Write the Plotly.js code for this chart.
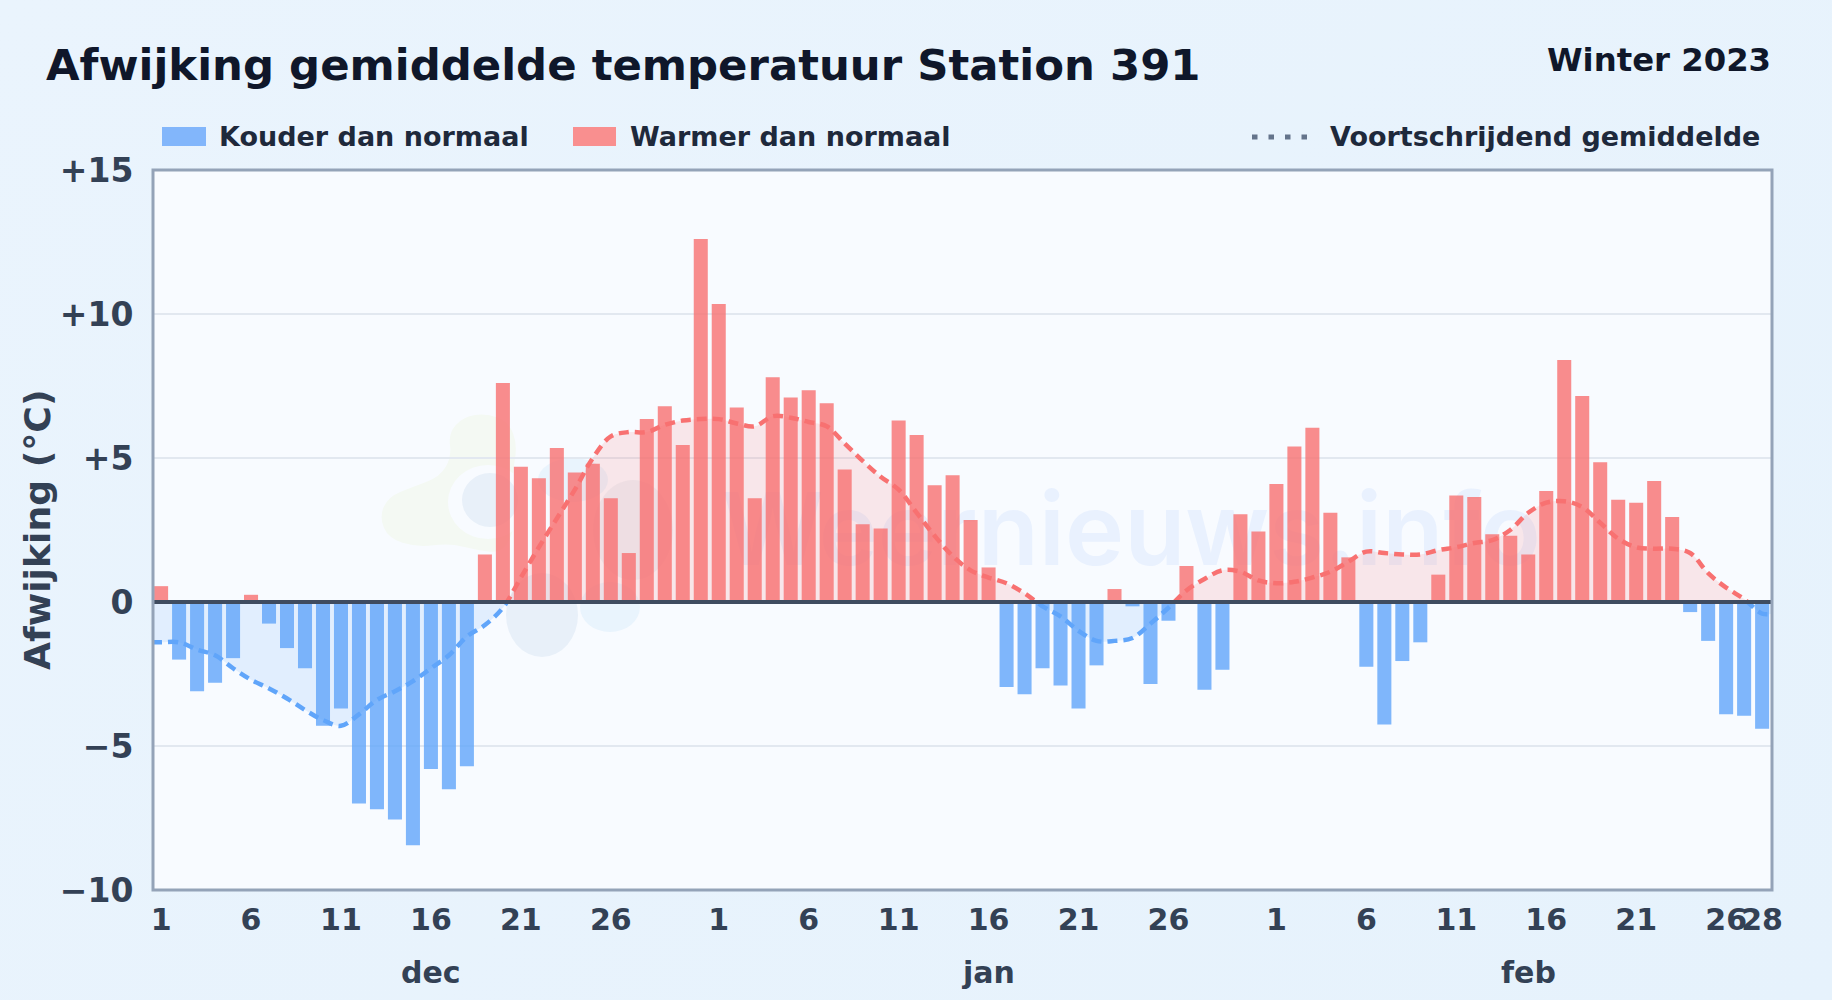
<!DOCTYPE html>
<html><head><meta charset="utf-8">
<script src="https://cdn.plot.ly/plotly-3.0.1.min.js"></script>
<style>
html,body{margin:0;padding:0;width:1832px;height:1000px;overflow:hidden;background:linear-gradient(135deg,#eaf4fd 0%,#e6f2fc 100%);}
#chart{width:1832px;height:1000px;}
</style></head><body><div id="chart"></div>
<script>
const decValues=[0.55,-2.0,-3.1,-2.8,-1.95,0.25,-0.75,-1.6,-2.3,-4.3,-3.7,-7.0,-7.2,-7.55,-8.45,-5.8,-6.5,-5.7,1.65,7.6,4.7,4.3,5.35,4.5,4.8,3.6,1.7,6.35,6.8,5.45,12.6];
const janValues=[10.35,6.75,3.6,7.8,7.1,7.35,6.9,4.6,2.7,2.55,6.3,5.8,4.05,4.4,2.85,1.2,-2.95,-3.2,-2.3,-2.9,-3.7,-2.2,0.45,-0.15,-2.85,-0.65,1.25,-3.05,-2.35,3.05,2.45];
const febValues=[4.1,5.4,6.05,3.1,1.55,-2.25,-4.25,-2.05,-1.4,0.95,3.7,3.65,2.35,2.3,1.65,3.85,8.4,7.15,4.85,3.55,3.45,4.2,2.95,-0.35,-1.35,-3.9,-3.95,-4.4];
const decAvg=[-1.4,-1.4,-1.65,-1.85,-2.3,-2.7,-3.0,-3.35,-3.75,-4.1,-4.3,-3.9,-3.4,-3.1,-2.75,-2.3,-1.85,-1.2,-0.8,-0.2,0.85,1.9,2.9,3.9,5.0,5.75,5.9,5.9,6.15,6.3,6.35];
const janAvg=[6.35,6.2,6.1,6.45,6.4,6.25,6.1,5.5,4.9,4.35,3.9,3.1,2.3,1.6,1.1,0.85,0.65,0.3,-0.15,-0.5,-1.0,-1.35,-1.35,-1.25,-0.75,-0.2,0.4,0.8,1.1,1.05,0.75];
const febAvg=[0.65,0.7,0.85,1.05,1.4,1.75,1.7,1.65,1.65,1.8,1.9,2.05,2.15,2.5,3.1,3.45,3.5,3.3,2.75,2.2,1.9,1.85,1.85,1.7,1.0,0.5,0.1,-0.4];
const monthNames=['dec','jan','feb'];
const monthMidDays=[16,16,15];
const dayTicks=[1,6,11,16,21,26];
const febDayTicks=[1,6,11,16,21,26,28];
const yTicks=[-10,-5,0,5,10,15];
const yTickLabels=['\u221210','\u22125','0','+5','+10','+15'];

const values=decValues.concat(janValues,febValues);
const avg=decAvg.concat(janAvg,febAvg);
const xs=values.map((_,i)=>i+1);
const lineX=[0.5].concat(xs,[90.6]);
const lineY=[avg[0]].concat(avg,[avg[avg.length-1]]);
const offs=[0,decValues.length,decValues.length+janValues.length];
const tickvals=[],ticktext=[];
[dayTicks,dayTicks,febDayTicks].forEach((t,m)=>t.forEach(d=>{tickvals.push(offs[m]+d);ticktext.push(String(d));}));

const L=153,R=1772,T=170,B=890;
const xp=p=>(p-L)/(R-L), yp=p=>1-(p-T)/(B-T);
const FONT='"DejaVu Sans", sans-serif';
const BLUE='#60a5fa', RED='#f87171';

function blob(pts){
  const n=pts.length; const P=q=>xp(q[0])+','+yp(q[1]);
  const mid=(a,b)=>[(a[0]+b[0])/2,(a[1]+b[1])/2];
  let d='M'+P(mid(pts[n-1],pts[0]));
  for(let i=0;i<n;i++){d+=' Q'+P(pts[i])+' '+P(mid(pts[i],pts[(i+1)%n]));}
  return d+' Z';
}
const z=(x,y)=>[x/3+360,y/3+390];
const ell=(cx,cy,rx,ry,fill)=>({type:'circle',xref:'paper',yref:'paper',x0:xp(cx-rx),x1:xp(cx+rx),y0:yp(cy+ry),y1:yp(cy-ry),fillcolor:fill,line:{width:0},layer:'below'});
const greenPts=[[265,130],[310,80],[380,70],[445,95],[473,165],[455,260],[470,400],[430,490],[350,480],[270,460],[170,472],[85,445],[58,380],[85,320],[160,290],[240,260],[275,200]].map(p=>z(p[0],p[1]));

const shapes=[
  {type:'rect',xref:'paper',yref:'paper',x0:0,x1:1,y0:0,y1:1,fillcolor:'#f8fbff',line:{width:0},layer:'below'},
  {type:'path',xref:'paper',yref:'paper',path:blob(greenPts),fillcolor:'#f4f9f3',line:{width:0},layer:'below'},
  ell(488,502,40,37,'#f8fbff'),
  ell(490,500,28,27,'#e8f0f9'),
  ell(573,480,35,22,'#e9f4fd'),
  ell(610,607,30,25,'#e9f4fd'),
  ell(542,615,36,42,'#e8f0f9'),
  ell(633,530,40,50,'rgba(100,116,139,0.07)'),
  {type:'line',xref:'paper',yref:'y',x0:0,x1:1,y0:0,y1:0,line:{color:'#3f4c60',width:4},layer:'above'},
  {type:'rect',xref:'paper',yref:'paper',x0:0,x1:1,y0:0,y1:1,line:{color:'#94a3b8',width:3},fillcolor:'rgba(0,0,0,0)',layer:'above'},
  {type:'rect',xref:'paper',yref:'paper',x0:xp(162),x1:xp(206),y0:yp(146),y1:yp(127),fillcolor:'#82b6fb',line:{width:0}},
  {type:'rect',xref:'paper',yref:'paper',x0:xp(573),x1:xp(616),y0:yp(146),y1:yp(127),fillcolor:'#f98f8f',line:{width:0}},
  {type:'line',xref:'paper',yref:'paper',x0:xp(1252),x1:xp(1307),y0:yp(137),y1:yp(137),line:{color:'#64748b',width:5,dash:'5.5px,11px'}}
];
const txt=(text,x,y,size,color,anchor,extra)=>Object.assign({text:'<b>'+text+'</b>',xref:'paper',yref:'paper',x:xp(x),y:yp(y),xanchor:anchor,yanchor:'middle',showarrow:false,font:{family:FONT,size:size,color:color},borderpad:0,borderwidth:0},extra||{});
const annotations=[
  txt('Afwijking gemiddelde temperatuur Station 391',46,65,43.4,'#0f172a','left'),
  txt('Winter 2023',1771,60,32.3,'#0f172a','right'),
  txt('Kouder dan normaal',219,137,27,'#1e293b','left'),
  txt('Warmer dan normaal',630,137,27,'#1e293b','left'),
  txt('Voortschrijdend gemiddelde',1330,137,27,'#1e293b','left'),
  txt('Afwijking (\u00b0C)',37,530,36.2,'#334155','center',{textangle:-90})
];
monthNames.forEach((m,i)=>annotations.push(Object.assign(
  txt(m,0,972,30,'#334155','center'),{xref:'x',x:offs[i]+monthMidDays[i]})));

const traces=[
  {type:'scatter',mode:'text',x:[77.7],y:[2.15],text:['Weernieuws.info'],textposition:'middle left',textfont:{family:'Inter, sans-serif',size:100,weight:600,color:'rgba(59,130,246,0.08)'},yaxis:'y',hoverinfo:'skip',cliponaxis:false},
  {type:'bar',name:'Kouder dan normaal',x:xs,y:values.map(v=>v<0?v:null),width:0.78,yaxis:'y2',marker:{color:'rgba(96,165,250,0.8)',line:{width:0}},hoverinfo:'skip'},
  {type:'bar',name:'Warmer dan normaal',x:xs,y:values.map(v=>v>=0?v:null),width:0.78,yaxis:'y2',marker:{color:'rgba(248,113,113,0.8)',line:{width:0}},hoverinfo:'skip'},
  {type:'scatter',mode:'lines',name:'Voortschrijdend gemiddelde',x:lineX,y:lineY,yaxis:'y3',fill:'tozeroy',fillcolor:'rgba(248,113,113,0.15)',line:{color:RED,width:4.5,dash:'10px,6px',shape:'spline',smoothing:1},hoverinfo:'skip'},
  {type:'scatter',mode:'lines',name:'Voortschrijdend gemiddelde',x:lineX,y:lineY,yaxis:'y4',fill:'tozeroy',fillcolor:'rgba(96,165,250,0.15)',line:{color:BLUE,width:4.5,dash:'10px,6px',shape:'spline',smoothing:1},hoverinfo:'skip',showlegend:false}
];
const layout={
  width:1832,height:1000,autosize:false,
  paper_bgcolor:'rgba(0,0,0,0)',plot_bgcolor:'rgba(0,0,0,0)',
  margin:{l:L,r:1832-R,t:T,b:1000-B,pad:0},
  showlegend:false,barmode:'overlay',
  font:{family:FONT},
  xaxis:{range:[0.55,90.55],tickmode:'array',tickvals:tickvals,ticktext:ticktext,tickangle:0,showgrid:false,zeroline:false,showline:false,
    ticks:'outside',ticklen:3,tickcolor:'rgba(0,0,0,0)',tickfont:{family:FONT,size:30,color:'#334155',weight:700},anchor:'y'},
  yaxis:{range:[-10,15],tickmode:'array',tickvals:yTicks,ticktext:yTickLabels,showgrid:true,gridcolor:'#e2e8f0',gridwidth:2,zeroline:false,showline:false,
    ticks:'outside',ticklen:12,tickcolor:'rgba(0,0,0,0)',tickfont:{family:FONT,size:33,color:'#334155',weight:700}},
  yaxis2:{range:[-10,15],overlaying:'y',visible:false,anchor:'x'},
  yaxis3:{domain:[0.4,1],range:[0,15],visible:false,anchor:'x'},
  yaxis4:{domain:[0,0.4],range:[-10,0],visible:false,anchor:'x'},
  shapes:shapes,annotations:annotations
};
Plotly.newPlot('chart',traces,layout,{staticPlot:true,displayModeBar:false});
</script></body></html>
